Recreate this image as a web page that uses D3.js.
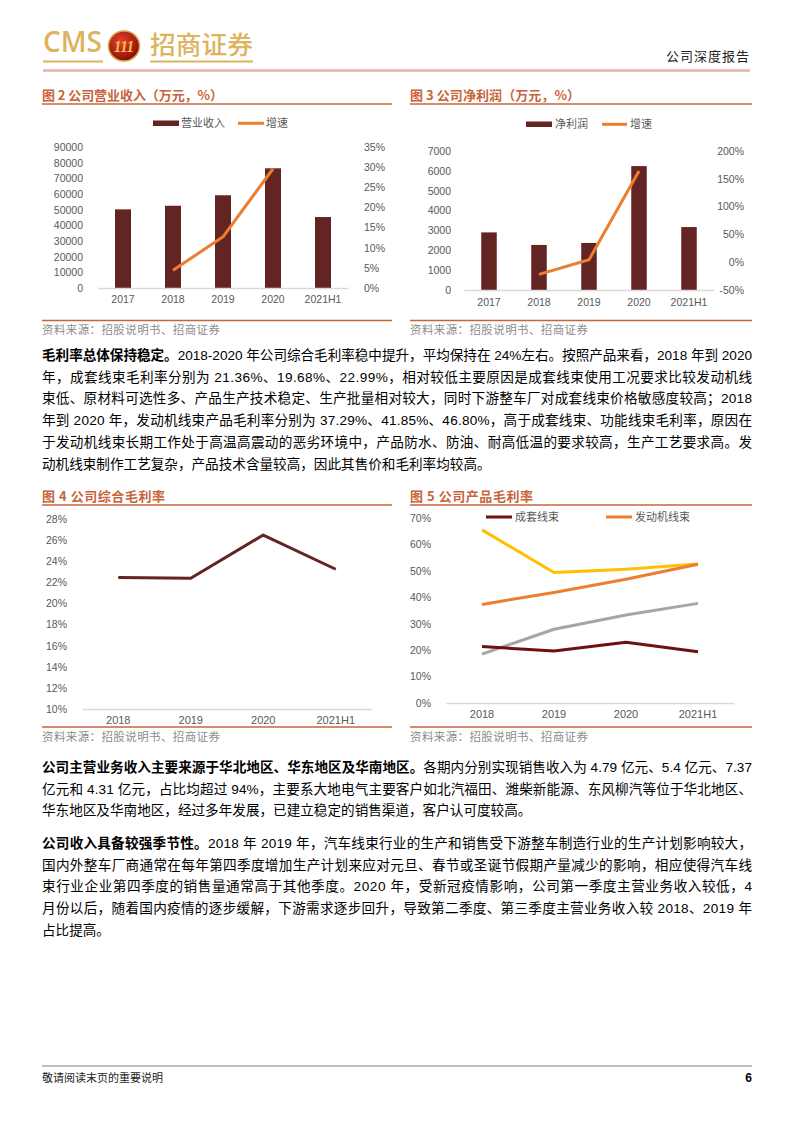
<!DOCTYPE html>
<html><head><meta charset="utf-8">
<script src="https://cdn.jsdelivr.net/npm/d3@7"></script>
<style>body{margin:0;background:#fff} svg{display:block}</style>
</head><body>
<svg id="page" width="793" height="1122"></svg>
<script>
// ---------- DATA ----------
const years5 = ["2017","2018","2019","2020","2021H1"];
const revenue = [50200, 52500, 59200, 76400, 45300];          // 万元
const revenueGrowth = [null, 4.4, 12.7, 29.6, null];          // %
const revTicks = [0,10000,20000,30000,40000,50000,60000,70000,80000,90000];
const revGrowthTicks = [0,5,10,15,20,25,30,35];

const profit = [2900, 2270, 2370, 6240, 3170];                 // 万元
const profitGrowth = [null, -22, 4.4, 164, null];              // %
const profitTicks = [0,1000,2000,3000,4000,5000,6000,7000];
const profitGrowthTicks = [-50,0,50,100,150,200];

const years4 = ["2018","2019","2020","2021H1"];
const grossMargin = [22.45, 22.38, 26.48, 23.24];
const grossTicks = [10,12,14,16,18,20,22,24,26,28];

const setHarness = [21.36, 19.68, 22.99, 19.4];     // 成套线束
const engineHarness = [37.29, 41.85, 46.80, 52.5];  // 发动机线束
const series3 = [65.5, 49.4, 50.6, 52.6];
const series4 = [18.5, 27.9, 33.3, 37.7];
const productTicks = [0,10,20,30,40,50,60,70];

// ---------- SETUP ----------
const svg = d3.select("#page");
const FONT = "'Liberation Sans','Noto Sans CJK SC',sans-serif";
const TITLE_C = "#C8643B", BAR_C = "#632523", ORANGE = "#ED7D31", TICK_C = "#595959", GRID_C = "#D9D9D9";

// ---------- HEADER ----------
const defs = svg.append("defs");
const rg = defs.append("radialGradient").attr("id","logoG").attr("cx","40%").attr("cy","35%").attr("r","70%");
rg.append("stop").attr("offset","0%").attr("stop-color","#E0452C");
rg.append("stop").attr("offset","70%").attr("stop-color","#A8190F");
rg.append("stop").attr("offset","100%").attr("stop-color","#6E0C06");

svg.append("text").attr("x",43).attr("y",52).attr("font-family","'Open Sans',sans-serif")
  .attr("font-weight",600).attr("font-size",28).attr("fill","#DDB35E")
  .attr("textLength",59).attr("lengthAdjust","spacingAndGlyphs").text("CMS");
svg.append("ellipse").attr("cx",124).attr("cy",46).attr("rx",15.5).attr("ry",15)
  .attr("fill","url(#logoG)").attr("stroke","#D9A441").attr("stroke-width",1.5);
svg.append("text").attr("x",124).attr("y",52).attr("text-anchor","middle")
  .attr("font-family","'Liberation Serif',serif").attr("font-style","italic").attr("font-weight","bold")
  .attr("font-size",17).attr("fill","#F4C34E").attr("textLength",20).attr("lengthAdjust","spacingAndGlyphs").text("111");
svg.append("text").attr("x",150).attr("y",54).attr("font-family","'Noto Sans CJK SC',sans-serif")
  .attr("font-weight",500).attr("font-size",25).attr("fill","#DDB35E")
  .attr("textLength",103).attr("lengthAdjust","spacingAndGlyphs").text("招商证券");
svg.append("line").attr("x1",43).attr("x2",103).attr("y1",61.5).attr("y2",61.5).attr("stroke","#DDB35E").attr("stroke-width",2);
svg.append("line").attr("x1",150).attr("x2",253).attr("y1",61.5).attr("y2",61.5).attr("stroke","#DDB35E").attr("stroke-width",2);
svg.append("text").attr("x",750).attr("y",61).attr("text-anchor","end").attr("font-family","'Noto Sans CJK SC',sans-serif")
  .attr("font-size",13).attr("letter-spacing",1).attr("fill","#222").text("公司深度报告");
svg.append("line").attr("x1",43).attr("x2",750).attr("y1",70.5).attr("y2",70.5).attr("stroke","#E3B5A4").attr("stroke-width",2.5);

// ---------- HELPERS ----------
function figTitle(x, y, w, txt){
  svg.append("text").attr("x",x).attr("y",y).attr("font-family","'Noto Sans CJK SC',sans-serif")
    .attr("font-weight","bold").attr("font-size",13).attr("fill",TITLE_C)
    .attr("textLength",w).attr("lengthAdjust","spacing").text(txt);
}
function hRule(x1,x2,y,c,w){
  svg.append("line").attr("x1",x1).attr("x2",x2).attr("y1",y).attr("y2",y).attr("stroke",c).attr("stroke-width",w);
}
function sourceText(x,y){
  svg.append("text").attr("x",x).attr("y",y).attr("font-family","'Noto Sans CJK SC',sans-serif")
    .attr("font-size",11.5).attr("fill","#8C8C8C").attr("textLength",178).attr("lengthAdjust","spacing")
    .text("资料来源：招股说明书、招商证券");
}
function styleAxis(g, fs){
  g.select(".domain").remove();
  g.selectAll(".tick line").remove();
  g.selectAll("text").attr("font-family",FONT).attr("font-size",fs||10.5).attr("fill",TICK_C);
}
function bottomAxis(x, y, fs, pad){
  const g = svg.append("g").attr("transform",`translate(0,${y})`)
    .call(d3.axisBottom(x).tickSize(0).tickSizeOuter(0).tickPadding(pad));
  g.select(".domain").attr("stroke",GRID_C).attr("stroke-width",1.3);
  g.selectAll("text").attr("font-family",FONT).attr("font-size",fs).attr("fill",TICK_C);
}
const pct = d => d + "%";

// ---------- FIG 2 ----------
figTitle(42,100,181,"图 2  公司营业收入（万元，%）");
hRule(42,392,104,TITLE_C,1.5);
{
  const x = d3.scaleBand().domain(years5).range([98,348]).paddingInner(0.68).paddingOuter(0.34);
  const yL = d3.scaleLinear().domain([0,90000]).range([288,147]);
  const yR = d3.scaleLinear().domain([0,35]).range([288,147]);
  svg.append("g").attr("transform","translate(98,0)")
    .call(d3.axisLeft(yL).tickValues(revTicks).tickFormat(d3.format("d")).tickPadding(9)).call(styleAxis);
  svg.append("g").attr("transform","translate(352,0)")
    .call(d3.axisRight(yR).tickValues(revGrowthTicks).tickFormat(pct).tickPadding(6)).call(styleAxis);
  svg.append("g").selectAll("rect").data(revenue).join("rect")
    .attr("x",(d,i)=>x(years5[i])).attr("width",x.bandwidth())
    .attr("y",d=>yL(d)).attr("height",d=>yL(0)-yL(d)).attr("fill",BAR_C);
  bottomAxis(x,288,10.5,8);
  const line = d3.line().defined(d=>d!=null).x((d,i)=>x(years5[i])+x.bandwidth()/2).y(d=>yR(d));
  svg.append("path").datum(revenueGrowth).attr("d",line).attr("fill","none")
    .attr("stroke",ORANGE).attr("stroke-width",3).attr("stroke-linejoin","round");
  // legend
  svg.append("rect").attr("x",153).attr("y",120.5).attr("width",26).attr("height",5.5).attr("fill",BAR_C);
  svg.append("text").attr("x",181).attr("y",127).attr("font-family",FONT).attr("font-size",11).attr("fill",TICK_C).text("营业收入");
  hRule(238,264,123.3,ORANGE,3);
  svg.append("text").attr("x",266).attr("y",127).attr("font-family",FONT).attr("font-size",11).attr("fill",TICK_C).text("增速");
}
hRule(42,392,320.5,TITLE_C,1.5);
sourceText(42,334);

// ---------- FIG 3 ----------
figTitle(410,100,170,"图 3  公司净利润（万元，%）");
hRule(410,752,104,TITLE_C,1.5);
{
  const x = d3.scaleBand().domain(years5).range([464,714]).paddingInner(0.69).paddingOuter(0.345);
  const yL = d3.scaleLinear().domain([0,7000]).range([290,151]);
  const yR = d3.scaleLinear().domain([-50,200]).range([290,151]);
  svg.append("g").attr("transform","translate(464,0)")
    .call(d3.axisLeft(yL).tickValues(profitTicks).tickFormat(d3.format("d")).tickPadding(7)).call(styleAxis);
  const gR = svg.append("g").attr("transform","translate(714,0)")
    .call(d3.axisRight(yR).tickValues(profitGrowthTicks).tickFormat(pct)).call(styleAxis);
  gR.selectAll("text").attr("x",30).attr("text-anchor","end");
  svg.append("g").selectAll("rect").data(profit).join("rect")
    .attr("x",(d,i)=>x(years5[i])).attr("width",x.bandwidth())
    .attr("y",d=>yL(d)).attr("height",d=>yL(0)-yL(d)).attr("fill",BAR_C);
  bottomAxis(x,290,10.5,9);
  const line = d3.line().defined(d=>d!=null).x((d,i)=>x(years5[i])+x.bandwidth()/2).y(d=>yR(d));
  svg.append("path").datum(profitGrowth).attr("d",line).attr("fill","none")
    .attr("stroke",ORANGE).attr("stroke-width",3).attr("stroke-linejoin","round");
  svg.append("rect").attr("x",526).attr("y",121.5).attr("width",26).attr("height",5.5).attr("fill",BAR_C);
  svg.append("text").attr("x",555).attr("y",128).attr("font-family",FONT).attr("font-size",11).attr("fill",TICK_C).text("净利润");
  hRule(602,627,124.3,ORANGE,3);
  svg.append("text").attr("x",630).attr("y",128).attr("font-family",FONT).attr("font-size",11).attr("fill",TICK_C).text("增速");
}
hRule(410,752,320.5,TITLE_C,1.5);
sourceText(410,334);

// ---------- BODY TEXT ----------
const TEXT_W = 710;
function bodyLine(y, segs, justify){
  const t = svg.append("text").attr("x",42).attr("y",y).attr("font-family",FONT)
    .attr("font-size",13.6).attr("fill","#000");
  segs.forEach(s => t.append("tspan").attr("font-weight", s[1] ? "bold" : "normal").text(s[0]));
  if (justify){
    const w = t.node().getComputedTextLength();
    const n = segs.map(s=>s[0]).join("").length;
    t.attr("letter-spacing", (TEXT_W - w)/(n-1));
  }
}
const para1 = [
  [[["毛利率总体保持稳定。",1],["2018-2020 年公司综合毛利率稳中提升，平均保持在 24%左右。按照产品来看，2018 年到 2020",0]],1],
  [[["年，成套线束毛利率分别为 21.36%、19.68%、22.99%，相对较低主要原因是成套线束使用工况要求比较发动机线",0]],1],
  [[["束低、原材料可选性多、产品生产技术稳定、生产批量相对较大，同时下游整车厂对成套线束价格敏感度较高；2018",0]],1],
  [[["年到 2020 年，发动机线束产品毛利率分别为 37.29%、41.85%、46.80%，高于成套线束、功能线束毛利率，原因在",0]],1],
  [[["于发动机线束长期工作处于高温高震动的恶劣环境中，产品防水、防油、耐高低温的要求较高，生产工艺要求高。发",0]],1],
  [[["动机线束制作工艺复杂，产品技术含量较高，因此其售价和毛利率均较高。",0]],0]
];
para1.forEach((l,i)=>bodyLine(360 + i*21.7, l[0], l[1]));
const para2 = [
  [[["公司主营业务收入主要来源于华北地区、华东地区及华南地区。",1],["各期内分别实现销售收入为 4.79 亿元、5.4 亿元、7.37",0]],1],
  [[["亿元和 4.31 亿元，占比均超过 94%，主要系大地电气主要客户如北汽福田、潍柴新能源、东风柳汽等位于华北地区、",0]],1],
  [[["华东地区及华南地区，经过多年发展，已建立稳定的销售渠道，客户认可度较高。",0]],0]
];
para2.forEach((l,i)=>bodyLine(772 + i*21.7, l[0], l[1]));
const para3 = [
  [[["公司收入具备较强季节性。",1],["2018 年 2019 年，汽车线束行业的生产和销售受下游整车制造行业的生产计划影响较大，",0]],1],
  [[["国内外整车厂商通常在每年第四季度增加生产计划来应对元旦、春节或圣诞节假期产量减少的影响，相应使得汽车线",0]],1],
  [[["束行业企业第四季度的销售量通常高于其他季度。2020 年，受新冠疫情影响，公司第一季度主营业务收入较低，4",0]],1],
  [[["月份以后，随着国内疫情的逐步缓解，下游需求逐步回升，导致第二季度、第三季度主营业务收入较 2018、2019 年",0]],1],
  [[["占比提高。",0]],0]
];
para3.forEach((l,i)=>bodyLine(848 + i*21.7, l[0], l[1]));

// ---------- FIG 4 ----------
figTitle(42,501,123,"图 4  公司综合毛利率");
hRule(42,392,505,TITLE_C,1.5);
{
  const x = d3.scaleBand().domain(years4).range([82,372]);
  const y = d3.scaleLinear().domain([10,28]).range([709,519]);
  svg.append("g").attr("transform","translate(82,0)")
    .call(d3.axisLeft(y).tickValues(grossTicks).tickFormat(pct).tickPadding(9)).call(styleAxis);
  bottomAxis(x,709,11,7);
  const line = d3.line().x((d,i)=>x(years4[i])+x.bandwidth()/2).y(d=>y(d));
  svg.append("path").datum(grossMargin).attr("d",line).attr("fill","none")
    .attr("stroke",BAR_C).attr("stroke-width",3).attr("stroke-linejoin","round");
}
hRule(42,392,727,TITLE_C,1.5);
sourceText(42,741);

// ---------- FIG 5 ----------
figTitle(410,501,123,"图 5  公司产品毛利率");
hRule(410,752,505,TITLE_C,1.5);
{
  const x = d3.scaleBand().domain(years4).range([446,734]);
  const y = d3.scaleLinear().domain([0,70]).range([703,518]);
  svg.append("g").attr("transform","translate(446,0)")
    .call(d3.axisLeft(y).tickValues(productTicks).tickFormat(pct).tickPadding(9)).call(styleAxis);
  bottomAxis(x,703,11,7);
  const line = d3.line().x((d,i)=>x(years4[i])+x.bandwidth()/2).y(d=>y(d));
  const ser = [
    {v: series4, c: "#A5A5A5"},
    {v: series3, c: "#FFC000"},
    {v: engineHarness, c: ORANGE},
    {v: setHarness, c: "#6E1010"}
  ];
  ser.forEach(s => svg.append("path").datum(s.v).attr("d",line).attr("fill","none")
    .attr("stroke",s.c).attr("stroke-width",3).attr("stroke-linejoin","round"));
  hRule(486,512,517,"#6E1010",3);
  svg.append("text").attr("x",515).attr("y",521).attr("font-family",FONT).attr("font-size",11).attr("fill",TICK_C).text("成套线束");
  hRule(606,632,517,ORANGE,3);
  svg.append("text").attr("x",635).attr("y",521).attr("font-family",FONT).attr("font-size",11).attr("fill",TICK_C).text("发动机线束");
}
hRule(410,752,727,TITLE_C,1.5);
sourceText(410,741);

// ---------- FOOTER ----------
hRule(42,752,1066,"#BFBFBF",2);
svg.append("text").attr("x",42).attr("y",1082).attr("font-family","'Noto Sans CJK SC',sans-serif")
  .attr("font-size",11).attr("fill","#222").text("敬请阅读末页的重要说明");
svg.append("text").attr("x",752).attr("y",1082).attr("text-anchor","end").attr("font-family",FONT)
  .attr("font-weight","bold").attr("font-size",12).attr("fill","#000").text("6");
</script>
</body></html>
